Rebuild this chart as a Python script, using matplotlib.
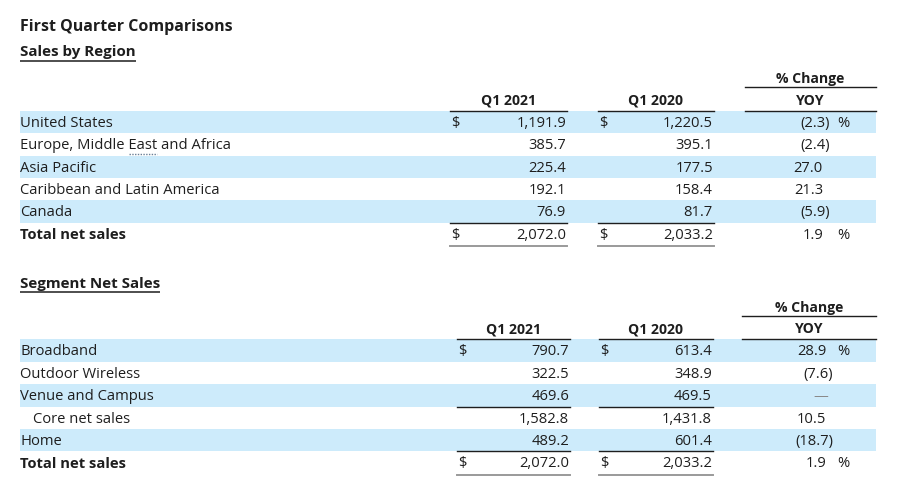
"""
First quarter comparison tables drawn as a figure
"""

import matplotlib
matplotlib.use('Agg')
import matplotlib.pyplot as plt

# ---- data ----
region_labels = ['United States', 'Europe, Middle East and Africa', 'Asia Pacific',
                 'Caribbean and Latin America', 'Canada']
region_q1_2021 = [1191.9, 385.7, 225.4, 192.1, 76.9]
region_q1_2020 = [1220.5, 395.1, 177.5, 158.4, 81.7]
region_yoy = [-2.3, -2.4, 27.0, 21.3, -5.9]
region_total = [2072.0, 2033.2, 1.9]

segment_labels = ['Broadband', 'Outdoor Wireless', 'Venue and Campus', 'Core net sales', 'Home']
segment_q1_2021 = [790.7, 322.5, 469.6, 1582.8, 489.2]
segment_q1_2020 = [613.4, 348.9, 469.5, 1431.8, 601.4]
segment_yoy = [28.9, -7.6, None, 10.5, -18.7]
segment_total = [2072.0, 2033.2, 1.9]

col_headers = ['Q1 2021', 'Q1 2020', 'YOY']

FONT = 'Open Sans'
TXT = '#1e1e1e'
BAND = '#cdebfb'
FS = 10.6      # body text
FSH = 10.1     # bold column headers
FST = 10.9     # section titles

plt.rcParams['font.family'] = [FONT, 'DejaVu Sans']

fig = plt.figure(figsize=(9, 4.98), dpi=100)
ax = fig.add_axes([0, 0, 1, 1])
ax.set_xlim(0, 900)
ax.set_ylim(498, 0)
ax.axis('off')


def money(v):
    return f'{v:,.1f}'


def pct(v):
    if v is None:
        return '—'
    if v < 0:
        return f'({abs(v):.1f})'
    return f'{v:.1f}'


def text_span(t):
    fig.canvas.draw()
    bb = t.get_window_extent()
    inv = ax.transData.inverted()
    x0, _ = inv.transform((bb.x0, bb.y0))
    x1, _ = inv.transform((bb.x1, bb.y0))
    return x0, x1


def underline_text(t, y, lw=1.0, **kw):
    x0, x1 = text_span(t)
    ax.plot([x0, x1], [y, y], color=kw.pop('color', TXT), lw=lw, solid_capstyle='butt', **kw)


def draw_table(title, title_y, line_y, labels, a, b, yoy, total, cols,
               underline_rows, indent_rows):
    row_h = 22.4
    (c1l, c1r, c2l, c2r, yl, yr, ydig) = cols
    t = ax.text(20, title_y, title, fontsize=FST, fontweight='bold', color=TXT,
                va='center', ha='left')
    underline_text(t, title_y + 8.5, lw=1.1)

    # headers
    ax.text((yl + yr) / 2, line_y - 31.5, '% Change', fontsize=FSH, fontweight='bold',
            color=TXT, ha='center', va='center')
    ax.plot([yl, yr], [line_y - 23.5, line_y - 23.5], color=TXT, lw=1.0)
    for name, (l, r) in zip(col_headers, [(c1l, c1r), (c2l, c2r), (yl, yr)]):
        ax.text((l + r) / 2, line_y - 10, name, fontsize=FSH, fontweight='bold',
                color=TXT, ha='center', va='center')
        ax.plot([l, r], [line_y, line_y], color=TXT, lw=1.0)

    n = len(labels)
    for i in range(n + 1):
        top = line_y + i * row_h
        yc = top + row_h / 2 + 1.3
        if i < n and i % 2 == 0:
            ax.fill_between([20, yr], top, top + row_h, color=BAND, lw=0, zorder=0)
        if i < n:
            lab, va_, vb, vy = labels[i], a[i], b[i], yoy[i]
            bold = 'normal'
            lx = 33 if i in indent_rows else 20
        else:
            lab, va_, vb, vy = 'Total net sales', total[0], total[1], total[2]
            bold = 'bold'
            lx = 20
        lt = ax.text(lx, yc, lab, fontsize=FS, fontweight=bold, color=TXT,
                     va='center', ha='left')
        if 'East' in lab:
            # spell-check style dotted mark under "East"
            pre = ax.text(lx, yc, lab[:lab.index('East')], fontsize=FS, alpha=0)
            word = ax.text(lx, yc, lab[:lab.index('East') + 4], fontsize=FS, alpha=0)
            x0 = text_span(pre)[1]
            x1 = text_span(word)[1]
            ax.plot([x0 + 1, x1], [yc + 8, yc + 8], color='#6a7f95', lw=1.0,
                    ls=(0, (1, 1)))
        if i == 0 or i == n:
            ax.text(c1l + 1, yc, '$', fontsize=FS, color=TXT, va='center', ha='left')
            ax.text(c2l + 1, yc, '$', fontsize=FS, color=TXT, va='center', ha='left')
        ax.text(c1r - 1, yc, money(va_), fontsize=FS, color=TXT, va='center', ha='right')
        ax.text(c2r - 1, yc, money(vb), fontsize=FS, color=TXT, va='center', ha='right')
        s = pct(vy)
        if vy is None:
            ax.text(ydig - 5, yc, s, fontsize=FS, color='#8a8a8a', va='center', ha='center')
        elif s.endswith(')'):
            ax.text(ydig + 7, yc, s, fontsize=FS, color=TXT, va='center', ha='right')
        else:
            ax.text(ydig, yc, s, fontsize=FS, color=TXT, va='center', ha='right')
        if i == 0 or i == n:
            ax.text(yr - 39, yc, '%', fontsize=FS, color=TXT, va='center', ha='left')
        if i in underline_rows:
            yb = top + row_h
            ax.plot([c1l, c1r], [yb, yb], color=TXT, lw=1.0)
            ax.plot([c2l, c2r], [yb, yb], color=TXT, lw=1.0)
    # rule under totals
    yb = line_y + (n + 1) * row_h + 0.8
    for l, r in [(c1l, c1r), (c2l, c2r)]:
        ax.plot([l, r], [yb, yb], color='#9a9a9a', lw=1.4)


ax.text(20, 27, 'First Quarter Comparisons', fontsize=FST + 0.6, fontweight='bold',
        color=TXT, va='center', ha='left')

draw_table('Sales by Region', 52, 110.7, region_labels, region_q1_2021, region_q1_2020,
           region_yoy, region_total, (450, 567, 598, 714, 745, 876, 823),
           underline_rows=[4], indent_rows=[])

draw_table('Segment Net Sales', 283.5, 339.3, segment_labels, segment_q1_2021, segment_q1_2020,
           segment_yoy, segment_total, (457, 570, 599, 713, 742, 876, 826),
           underline_rows=[2, 4], indent_rows=[3])

fig.savefig('out.png', dpi=100, facecolor='white')
